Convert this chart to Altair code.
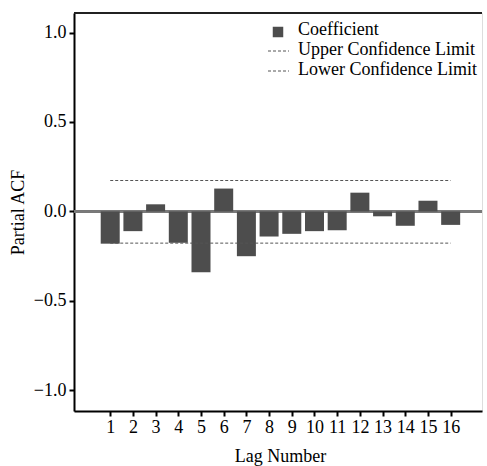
import altair as alt
import pandas as pd

lags = list(range(1, 17))
pacf = [-0.18, -0.11, 0.04, -0.175, -0.34, 0.128, -0.25, -0.14, -0.125, -0.11,
        -0.105, 0.105, -0.027, -0.08, 0.06, -0.075]
upper_limit = 0.173
lower_limit = -0.177
legend_labels = ["Coefficient", "Upper Confidence Limit", "Lower Confidence Limit"]

FONT = "Liberation Serif"
FS = 18
BAR = "#4d4d4d"

bars_df = pd.DataFrame({"lag": lags, "pacf": pacf})
limits_df = pd.DataFrame({
    "start": [lags[0], lags[0]],
    "end": [lags[-1], lags[-1]],
    "value": [upper_limit, lower_limit],
})

xscale = alt.Scale(domain=[-0.375, 17.16], nice=False, zero=False)
yscale = alt.Scale(domain=[-1.115, 1.109], nice=False, zero=False)

xaxis = alt.Axis(values=lags, format="d", title="Lag Number", grid=False,
                 labelFont=FONT, labelFontSize=FS, labelColor="black",
                 titleFont=FONT, titleFontSize=FS, titleFontWeight="normal", titleColor="black",
                 tickSize=5, tickWidth=2, tickColor="black", domainColor="black", domainWidth=2,
                 labelPadding=2, titlePadding=11, titleX=206)
yaxis = alt.Axis(values=[-1, -0.5, 0, 0.5, 1], format=".1f", title="Partial ACF", grid=False,
                 labelFont=FONT, labelFontSize=FS, labelColor="black",
                 titleFont=FONT, titleFontSize=FS, titleFontWeight="normal", titleColor="black",
                 tickSize=5, tickWidth=2, tickColor="black", domainColor="black", domainWidth=2,
                 labelPadding=3, titlePadding=6)

top_border = alt.Chart(bars_df).mark_rule(color="#222222", strokeWidth=1.5).encode(
    x=alt.value(0), x2=alt.value(408), y=alt.value(0)
)

zero = alt.Chart(bars_df).mark_rule(color="#7a7a7a", strokeWidth=1.5).encode(
    y=alt.datum(0, scale=yscale, axis=yaxis)
)

bars = alt.Chart(bars_df).mark_bar(color=BAR, size=19).encode(
    x=alt.X("lag:Q", scale=xscale, axis=xaxis),
    y=alt.Y("pacf:Q", scale=yscale, axis=yaxis),
)

limits = alt.Chart(limits_df).mark_rule(color="#555555", strokeWidth=1, strokeDash=[3, 2]).encode(
    x=alt.X("start:Q", scale=xscale, axis=xaxis),
    x2="end:Q",
    y=alt.Y("value:Q", scale=yscale, axis=yaxis),
)

leg_df = pd.DataFrame({"label": legend_labels})
row_y = [17, 37, 57]
leg_layers = []
for i, lab in enumerate(legend_labels):
    sub = leg_df[leg_df.label == lab]
    leg_layers.append(
        alt.Chart(sub).mark_text(align="left", baseline="middle", font=FONT,
                                 fontSize=FS, color="black").encode(
            x=alt.value(224), y=alt.value(row_y[i]), text="label:N")
    )
    if i == 0:
        leg_layers.append(
            alt.Chart(sub).mark_square(size=110, color=BAR, opacity=1).encode(
                x=alt.value(204), y=alt.value(row_y[i] + 2))
        )
    else:
        leg_layers.append(
            alt.Chart(sub).mark_rule(color="#555555", strokeWidth=1, strokeDash=[3, 2]).encode(
                x=alt.value(194), x2=alt.value(215), y=alt.value(row_y[i] + 1))
        )

chart = alt.layer(top_border, zero, bars, limits, *leg_layers).properties(
    width=408, height=398,
    autosize=alt.AutoSizeParams(type="none"),
    padding={"left": 74, "top": 13, "right": 5, "bottom": 55},
).configure_view(
    stroke="#b0b0b0", strokeWidth=1
).configure(background="white")

chart.save("out.html", embed_options={"renderer": "svg", "actions": False})
